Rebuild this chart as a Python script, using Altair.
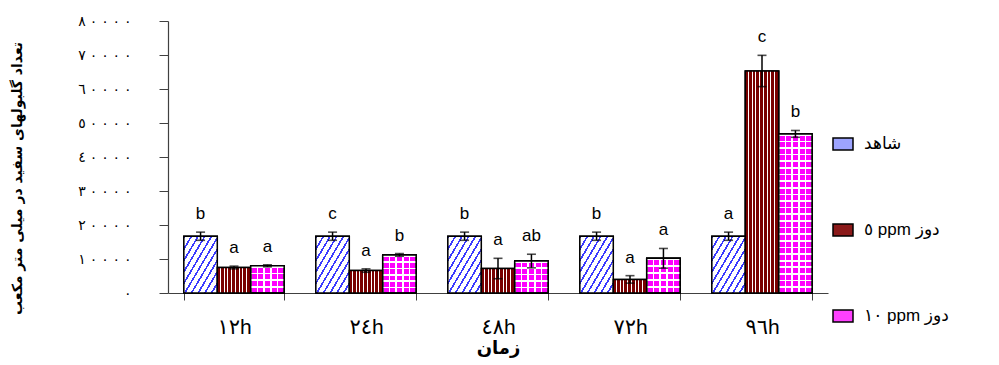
import json
import altair as alt
import pandas as pd

# ---------------- data ----------------
times = ["١٢h", "٢٤h", "٤٨h", "٧٢h", "٩٦h"]
groups = ["شاهد", "٥ ppm دوز", "١٠ ppm دوز"]

control_mean = [16700, 16700, 16700, 16700, 16700]
control_err = [1200, 1200, 1200, 1200, 1200]
dose5_mean = [7500, 6600, 7200, 4000, 65300]
dose5_err = [400, 500, 3000, 1100, 4600]
dose10_mean = [8000, 11200, 9400, 10200, 46800]
dose10_err = [300, 400, 2000, 2900, 1000]

control_letters = ["b", "c", "b", "b", "a"]
dose5_letters = ["a", "a", "a", "a", "c"]
dose10_letters = ["a", "b", "ab", "a", "b"]

y_ticks = [0, 10000, 20000, 30000, 40000, 50000, 60000, 70000, 80000]
y_tick_labels = ["٠", "١٠٠٠٠", "٢٠٠٠٠", "٣٠٠٠٠", "٤٠٠٠٠", "٥٠٠٠٠", "٦٠٠٠٠", "٧٠٠٠٠", "٨٠٠٠٠"]

y_title = "تعداد گلبولهای سفید در میلی متر مکعب"
x_title = "زمان"

# ---------------- table ----------------
rows = []
for gi, (means, errs, lets) in enumerate([
    (control_mean, control_err, control_letters),
    (dose5_mean, dose5_err, dose5_letters),
    (dose10_mean, dose10_err, dose10_letters),
]):
    for t, m, e, l in zip(times, means, errs, lets):
        rows.append({"time": t, "group": groups[gi], "mean": m, "lo": m - e, "hi": m + e, "letter": l})
df = pd.DataFrame(rows)

# ---------------- styles ----------------
FONT = "Liberation Sans, DejaVu Sans"
AX = "#404040"
PLOT_H = 272
Y_MAX = 80000


def stripes(n, segs, x1, y1, x2, y2):
    """segs: list of (start_frac, end_frac, color) within one period"""
    stops = []
    for i in range(n):
        for s, e, c in segs:
            stops.append({"offset": round(min(1, (i + s) / n), 5), "color": c})
            stops.append({"offset": round(min(1, (i + e) / n), 5), "color": c})
    return {"gradient": "linear", "x1": x1, "y1": y1, "x2": x2, "y2": y2, "stops": stops}


blue_grad = stripes(10, [(0, 0.28, "#3a3aff"), (0.28, 1, "#ffffff")], 0, 0, 1, 1)
brown_grad = stripes(9, [(0, 0.72, "#7a0000"), (0.72, 1, "#ffffff")], 0, 0, 1, 0)
pink_cols = stripes(5, [(0, 0.12, "#ffffff"), (0.12, 0.88, "#ff00ff"), (0.88, 1, "#ffffff")], 0, 0, 1, 0)

# spaced tick labels (LRM keeps the Arabic-Indic digits in order)
spaced = ["\u200e ".join(s) for s in y_tick_labels]
label_expr = json.dumps(spaced, ensure_ascii=False) + "[round(datum.value / 10000)]"

x_enc = alt.X(
    "time:N",
    sort=times,
    scale=alt.Scale(domain=times, paddingInner=0.24, paddingOuter=0.12),
    axis=alt.Axis(
        title=x_title, titleFont="DejaVu Sans", titleFontWeight="bold", titleFontSize=18,
        titleY=55, titleBaseline="middle", titleColor="black",
        labelAngle=0, labelFont=FONT, labelFontSize=21, labelColor="black",
        labelBaseline="alphabetic", labelPadding=33,
        tickSize=7, tickBand="extent", tickColor=AX, domainColor=AX, domainWidth=1.2,
    ),
)
xo_enc = alt.XOffset("group:N", scale=alt.Scale(domain=groups, paddingInner=0, paddingOuter=0))

y_axis = alt.Axis(
    title=y_title, titleFont="DejaVu Sans", titleFontWeight="bold", titleFontSize=14,
    titleColor="black", titleX=-151, titleY=157, titleAngle=-90, titleAlign="center",
    titleBaseline="middle",
    values=y_ticks, labelExpr=label_expr, labelFont=FONT, labelFontSize=14,
    labelColor="black", labelPadding=28, tickSize=9, tickColor=AX, domainColor=AX,
    domainWidth=1.2, grid=False,
)
y_scale = alt.Scale(domain=[0, Y_MAX], nice=False, zero=True)


def Y(field):
    return alt.Y(field, scale=y_scale, axis=y_axis)


base = alt.Chart(df).encode(x=x_enc, xOffset=xo_enc)

legend_bars = base.mark_bar(stroke="black", strokeWidth=1.5).encode(
    y=Y("mean:Q"),
    fill=alt.Fill(
        "group:N",
        scale=alt.Scale(domain=groups, range=["#9da4ff", "#8b1a1a", "#ff40ff"]),
        legend=alt.Legend(
            title=None, orient="none", legendX=664, legendY=112, direction="vertical",
            symbolType="M-1,-0.6H1V0.6H-1Z", symbolSize=400, symbolStrokeColor="black",
            symbolStrokeWidth=1.5, symbolOpacity=1, labelFont=FONT, labelFontSize=17,
            labelColor="black", labelOffset=10, rowPadding=66, labelLimit=300, padding=0,
        ),
    ),
)

layers = [legend_bars]
for g, grad in [(groups[0], blue_grad), (groups[1], brown_grad), (groups[2], pink_cols)]:
    layers.append(
        base.mark_bar(fill=grad, stroke="black", strokeWidth=1.5)
        .encode(y=Y("mean:Q"))
        .transform_filter(alt.datum.group == g)
    )

# white row gaps for the dotted pink bars (one layer per bar so row spacing stays constant)
for t, m in zip(times, dose10_mean):
    h_px = m * PLOT_H / Y_MAX
    n_rows = max(1, round(h_px / 6.7))
    rows_grad = stripes(n_rows, [(0, 0.25, "rgba(255,255,255,1)"), (0.25, 1, "rgba(255,255,255,0)")], 0, 0, 0, 1)
    layers.append(
        base.mark_bar(fill=rows_grad, stroke="black", strokeWidth=1.5)
        .encode(y=Y("mean:Q"))
        .transform_filter((alt.datum.group == groups[2]) & (alt.datum.time == t))
    )

layers.append(base.mark_rule(color="black", strokeWidth=1.5).encode(y=Y("lo:Q"), y2="hi:Q"))
layers.append(base.mark_tick(color="black", thickness=1.6, size=9).encode(y=Y("hi:Q")))
layers.append(base.mark_tick(color="black", thickness=1.6, size=9).encode(y=Y("lo:Q")))
layers.append(
    base.mark_text(font=FONT, fontSize=17, color="black", dy=-18, baseline="middle")
    .encode(y=Y("hi:Q"), text="letter:N")
)

chart = (
    alt.layer(*layers)
    .properties(
        width=660, height=PLOT_H,
        autosize=alt.AutoSizeParams(type="none"),
        padding={"left": 168, "top": 21, "right": 171, "bottom": 72},
        background="white",
    )
    .configure_view(stroke=None)
)

chart.save("out.html", embed_options={"renderer": "svg", "actions": False})
